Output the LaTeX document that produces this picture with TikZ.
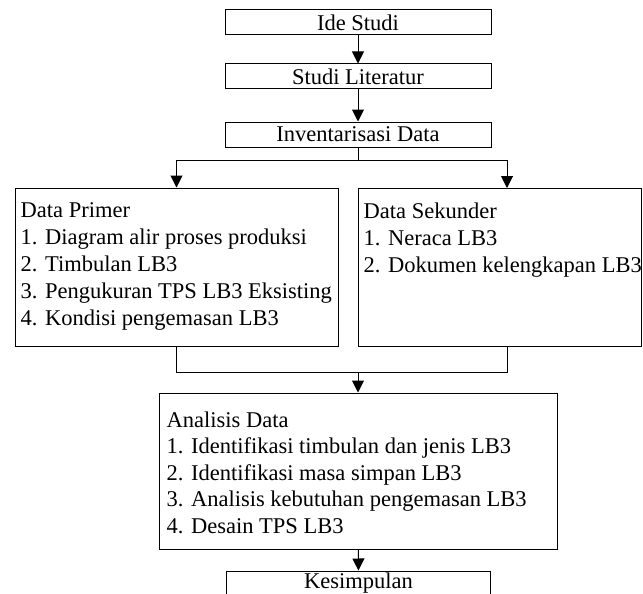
\documentclass[tikz,border=0pt]{standalone}
\usepackage{fontspec}
\setmainfont{Liberation Serif}
\usetikzlibrary{arrows.meta}

\begin{document}
\begin{tikzpicture}[x=1pt, y=-1pt,
        font=\fontsize{22.5}{27}\selectfont,
        box/.style={draw, line width=1pt, inner sep=0pt, minimum height=25pt},
        boxtext/.style={anchor=north west, inner sep=0pt, align=left},
        wire/.style={line width=1pt},
        arr/.style={line width=1pt, -{Triangle[length=12pt, width=12pt]}}]
                \useasboundingbox (0, 0) rectangle (643, 594);
                % Boxes and texts:
                \node[box, minimum width=266pt](ide) at (358, 22.5){Ide Studi};
                \node[box, minimum width=266pt](lit) at (358, 76.5){Studi Literatur};
                \node[box, minimum width=266pt](inv) at (358, 134.5){Inventarisasi Data};
                \node[box, minimum width=323pt, minimum height=158pt](primer) at (176.5, 267){};
                \node[box, minimum width=283pt, minimum height=158pt](sekunder) at (499.5, 267){};
                \node[box, minimum width=398pt, minimum height=156pt](analisis) at (358, 471){};
                \node[box, minimum width=264pt](kesimpulan) at (358.5, 583.5){Kesimpulan};
                \node[boxtext](primerText) at ([xshift=6pt, yshift=-15pt]primer.north west){Data Primer\\1. Diagram alir proses produksi\\2. Timbulan LB3\\3. Pengukuran TPS LB3 Eksisting\\4. Kondisi pengemasan LB3};
                \node[boxtext](sekunderText) at ([xshift=6pt, yshift=-15pt]sekunder.north west){Data Sekunder\\1. Neraca LB3\\2. Dokumen kelengkapan LB3};
                \node[boxtext, font=\fontsize{22.5}{26.5}\selectfont](analisisText) at ([xshift=8pt, yshift=-19pt]analisis.north west){Analisis Data\\1. Identifikasi timbulan dan jenis LB3\\2. Identifikasi masa simpan LB3\\3. Analisis kebutuhan pengemasan LB3\\4. Desain TPS LB3};
                % Wires and arrows:
                \coordinate (split) at (358, 160);
                \coordinate (sekTop) at (507, 188);
                \coordinate (sekBot) at (507, 346);
                \coordinate (merge) at (358, 372);
                \draw[arr] (ide) -- (lit);
                \draw[arr] (lit) -- (inv);
                \draw[wire] (inv.south) -- (split);
                \draw[arr] (split) -| (primer.north);
                \draw[arr] (split) -| (sekTop);
                \draw[wire] (primer.south) |- (merge);
                \draw[wire] (sekBot) |- (merge);
                \draw[arr] (merge) -- (analisis.north);
                \draw[arr] (analisis) -- (kesimpulan);
            \end{tikzpicture}
\end{document}
